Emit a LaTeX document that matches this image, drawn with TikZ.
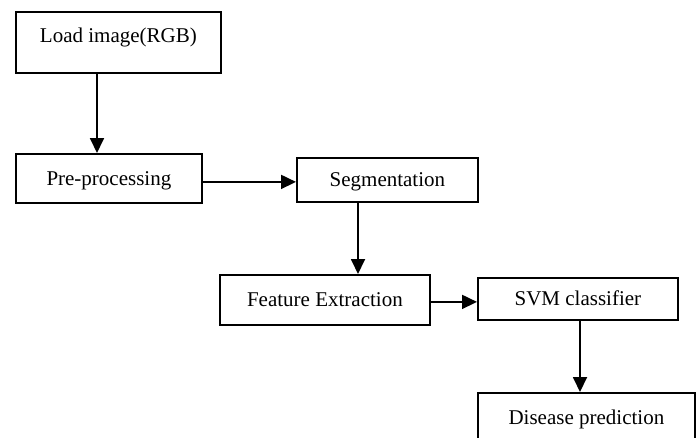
\documentclass[tikz,border=0pt]{standalone}
\usepackage{fontspec}
\setmainfont{Liberation Serif}
\usetikzlibrary{arrows.meta}
\tikzset{
	stagebox/.style = {
		rectangle,
		draw=black,
		line width=1.8pt,
		anchor=north west,
		inner sep=0pt,
		align=center,
		text height=14pt,
		text depth=0pt,
		font=\fontsize{21}{25}\selectfont
	},
	stagebox_top/.style = {
		stagebox,
		text depth=13pt
	},
	flowarrow/.style = {
		line width=1.8pt,
		-{Triangle[length=15pt,width=14pt]}
	},
}
\begin{document}
\begin{tikzpicture}[x=1pt,y=-1pt]
\useasboundingbox (0,0) rectangle (700,437);
\clip (0,0) rectangle (700,437);
% stages
\node [stagebox_top, minimum width=205pt, minimum height=61pt] (load) at (15,11) {Load image(RGB)};
\node [stagebox, minimum width=186pt, minimum height=49pt] (prep) at (15,153) {Pre-processing};
\node [stagebox, minimum width=181pt, minimum height=44pt] (seg) at (296,157) {Segmentation};
\node [stagebox, minimum width=210pt, minimum height=50pt] (feat) at (219,274) {Feature Extraction};
\node [stagebox, minimum width=200pt, minimum height=42pt] (svm) at (477,277) {SVM classifier};
\node [stagebox, minimum width=217pt, minimum height=50pt] (pred) at (477,392) {Disease prediction};
% arrows
\draw [flowarrow] ([xshift=82pt]load.south west) -- ([xshift=82pt]prep.north west);
\draw [flowarrow] ([yshift=-3.5pt]prep.east) -- ([yshift=-3.5pt]prep.east -| seg.west);
\draw [flowarrow] ([xshift=62pt]seg.south west) -- ([xshift=139pt]feat.north west);
\draw [flowarrow] ([yshift=-2pt]feat.east) -- ([yshift=-2pt]feat.east -| svm.west);
\draw [flowarrow] ([xshift=103pt]svm.south west) -- ([xshift=103pt]pred.north west);
\end{tikzpicture}
\end{document}
